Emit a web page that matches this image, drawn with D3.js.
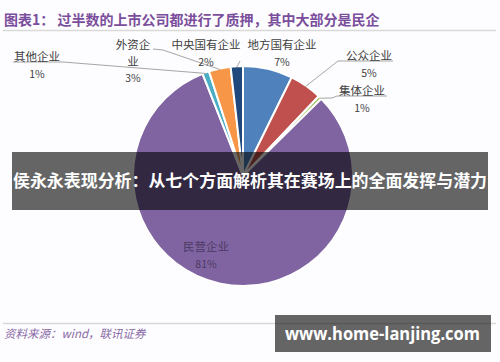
<!DOCTYPE html>
<html>
<head>
<meta charset="utf-8">
<script src="https://cdn.jsdelivr.net/npm/d3@7"></script>
<style>
  body { margin: 0; background: #fff; }
  svg { display: block; font-family: "Noto Sans CJK SC", "Noto Sans", sans-serif; }
</style>
</head>
<body>
<svg id="canvas" width="500" height="362"></svg>
<script>
(function () {
    // chart values
    var categories = ["地方国有企业", "公众企业", "集体企业", "民营企业", "其他企业", "外资企业", "中央国有企业"];
    var values = [7.3, 4.8, 0.5, 81.4, 1.0, 3.2, 1.8];
    var pctLabels = ["7%", "5%", "1%", "81%", "1%", "3%", "2%"];
    var colors = ["#4f81bd", "#c0504d", "#9bbb59", "#8064a2", "#4bacc6", "#f79646", "#1f497d"];

    var width = 500, height = 362;
    var cx = 243, cy = 176, r = 110;

    const svg = d3.select("#canvas");

    svg.append("rect").attr("width", width).attr("height", height).attr("fill", "#fdfcfe");

    // title + rules
    svg.append("text")
        .attr("x", 4).attr("y", 25)
        .attr("fill", "#7a4e9c")
        .attr("font-size", 14).attr("font-weight", "bold")
        .text("图表1：  过半数的上市公司都进行了质押，其中大部分是民企");
    svg.append("line").attr("x1", 3).attr("x2", 496).attr("y1", 30.5).attr("y2", 30.5)
        .attr("stroke", "#d9d9d9").attr("stroke-width", 1.5);
    svg.append("line").attr("x1", 3).attr("x2", 496).attr("y1", 323.5).attr("y2", 323.5)
        .attr("stroke", "#d9d9d9").attr("stroke-width", 1.5);
    svg.append("text")
        .attr("x", 4).attr("y", 338)
        .attr("fill", "#8a6aa6")
        .attr("font-size", 11.5).attr("font-style", "italic")
        .text("资料来源：wind，联讯证券");

    // pie
    var pie = d3.pie().sort(null).value(function (d) { return d; });
    var arcs = pie(values);
    var arc = d3.arc().innerRadius(0).outerRadius(r);

    const chart = svg.append("g").attr("transform", `translate(${cx}, ${cy})`);

    chart.selectAll("path")
        .data(arcs)
        .join("path")
        .attr("d", arc)
        .attr("fill", function (d, i) { return colors[i]; })
        .attr("stroke", "#fff")
        .attr("stroke-width", 2);

    // label layout (absolute page positions)
    var labelPos = [
        { x: 282, y: 49, lines: ["地方国有企业"], line: null },
        { x: 369, y: 60, lines: ["公众企业"], line: [[393, 61], [338, 61]] },
        { x: 362, y: 95, lines: ["集体企业"], line: [[387, 96], [337, 96], [332, 98]] },
        { x: 206, y: 251, lines: ["民营企业"], line: null, inside: true },
        { x: 37, y: 61, lines: ["其他企业"], line: [[13, 62], [63, 62]] },
        { x: 133, y: 49, lines: ["外资企", "业"], line: [[153, 49], [163, 50]] },
        { x: 206, y: 49, lines: ["中央国有企业"], line: [[240, 61]] }
    ];

    // leader lines to arc edge
    arcs.forEach(function (d, i) {
        var lp = labelPos[i];
        if (!lp.line) return;
        var a = (d.startAngle + d.endAngle) / 2;
        var edge = [cx + Math.sin(a) * (r - 1), cy - Math.cos(a) * (r - 1)];
        var pts = lp.line.concat([edge]);
        svg.append("path")
            .attr("d", d3.line()(pts))
            .attr("fill", "none")
            .attr("stroke", "#a6a6a6")
            .attr("stroke-width", 1);
    });

    labelPos.forEach(function (lp, i) {
        var g = svg.append("g").attr("fill", lp.inside ? "#4b3a63" : "#404040")
            .attr("font-size", 11.5).attr("text-anchor", "middle");
        lp.lines.forEach(function (t, k) {
            g.append("text").attr("x", lp.x).attr("y", lp.y + k * 17).text(t);
        });
        g.append("text").attr("x", lp.x).attr("y", lp.y + lp.lines.length * 16.5)
            .attr("font-size", 10.5).text(pctLabels[i]);
    });

    // overlay banner
    svg.append("rect").attr("x", 12).attr("y", 152).attr("width", 476).attr("height", 58)
        .attr("fill", "rgba(0,0,0,0.6)");
    svg.append("text")
        .attr("x", 13).attr("y", 187)
        .attr("textLength", 474).attr("lengthAdjust", "spacingAndGlyphs")
        .attr("fill", "#fff").attr("font-size", 16.5).attr("font-weight", "bold")
        .text("侯永永表现分析：从七个方面解析其在赛场上的全面发挥与潜力");

    // watermark box
    svg.append("rect").attr("x", 275).attr("y", 315).attr("width", 216).attr("height", 37)
        .attr("fill", "rgba(0,0,0,0.6)");
    svg.append("text")
        .attr("x", 285).attr("y", 340)
        .attr("textLength", 195).attr("lengthAdjust", "spacingAndGlyphs")
        .attr("fill", "#fff").attr("font-size", 18).attr("font-weight", "bold")
        .attr("font-family", "'Open Sans', 'DejaVu Sans', sans-serif")
        .text("www.home-lanjing.com");
})();
</script>
</body>
</html>
